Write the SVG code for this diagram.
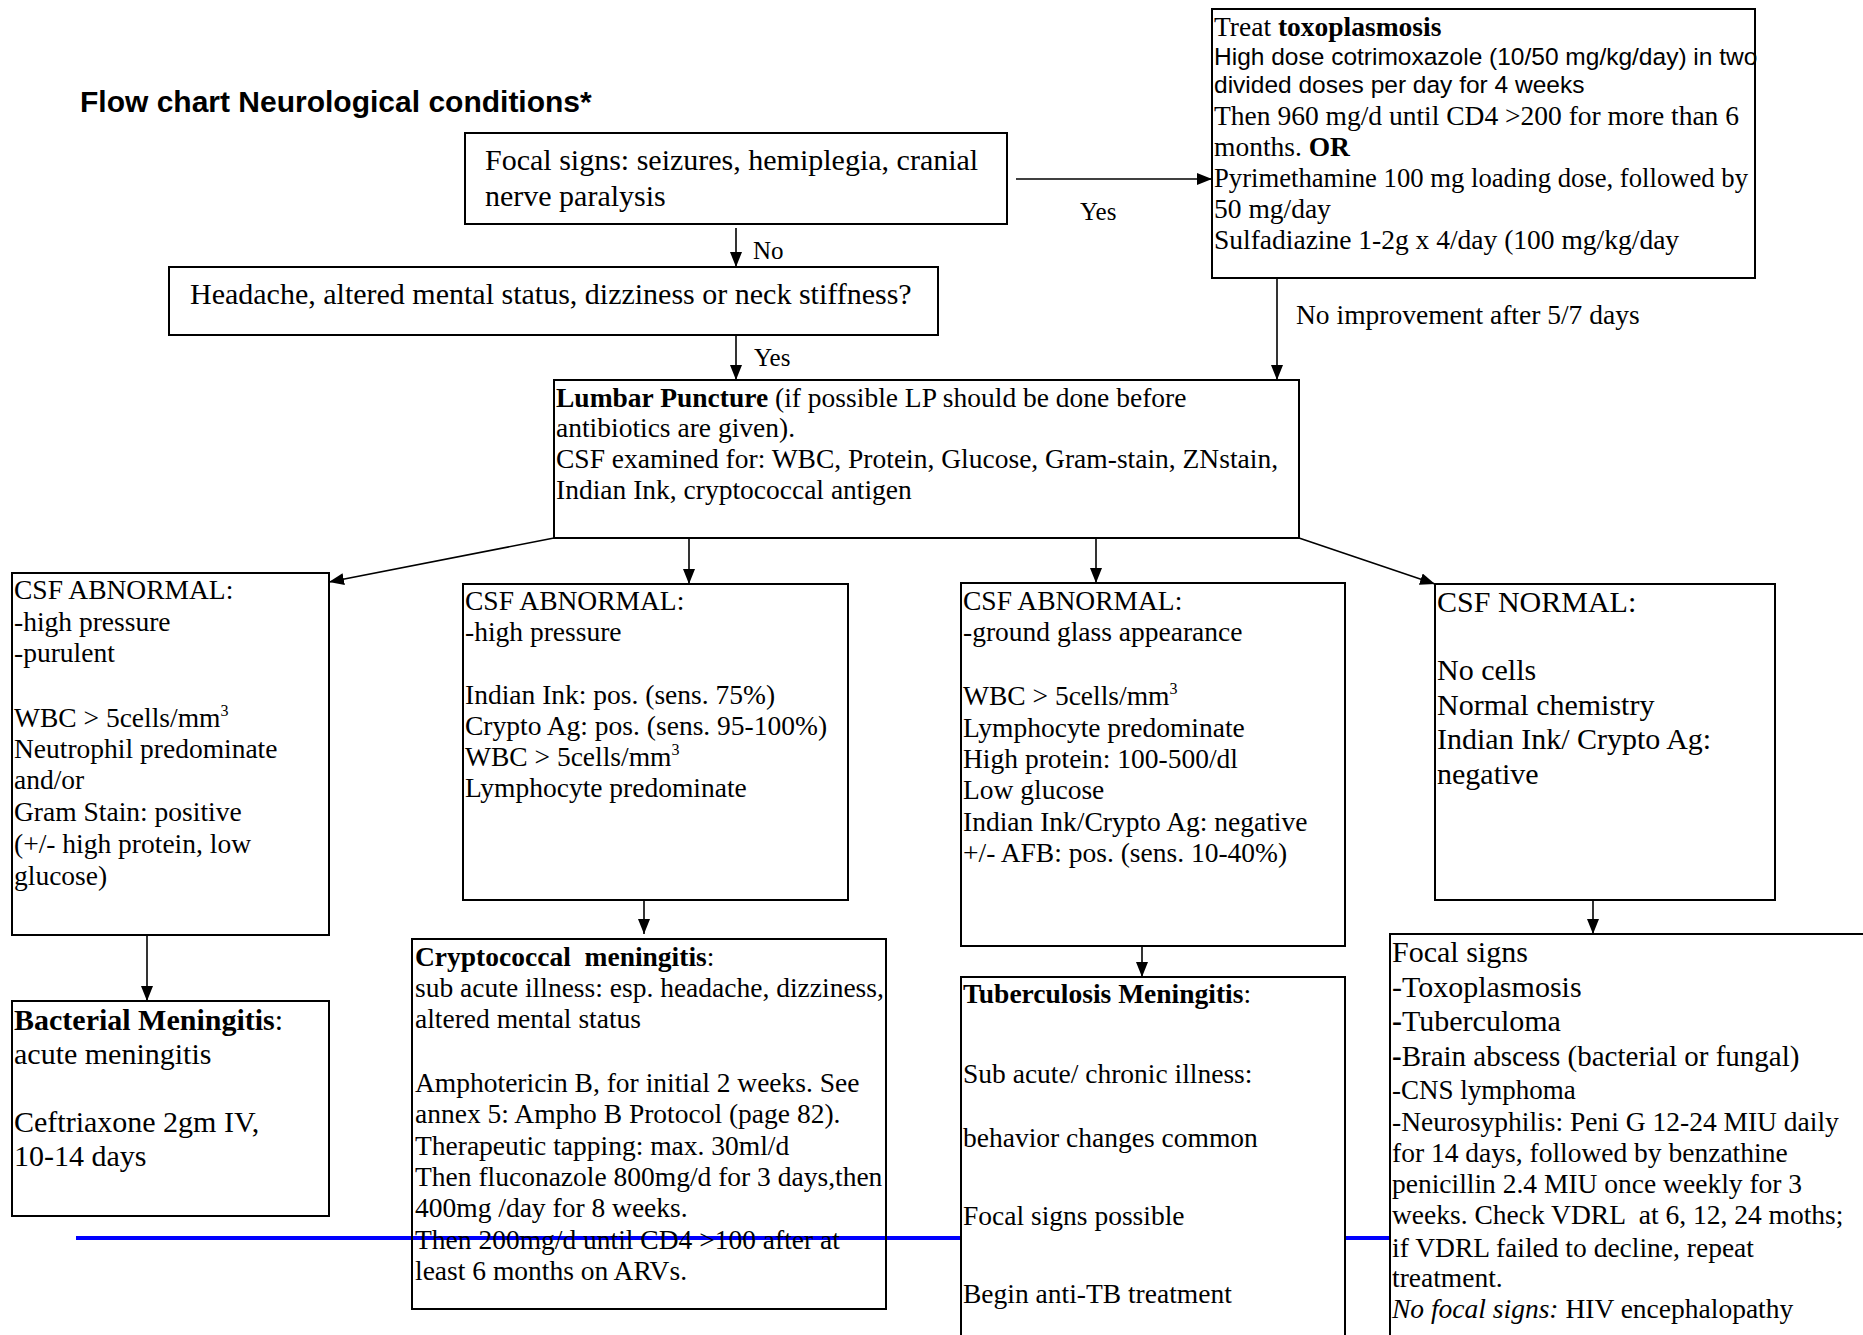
<svg xmlns="http://www.w3.org/2000/svg" width="1863" height="1335" viewBox="0 0 1863 1335">
  <style>
    .box { fill: #fff; stroke: #000; stroke-width: 2; }
    .open { fill: none; stroke: #000; stroke-width: 2; }
    .edge { stroke: #000; stroke-width: 1.6; fill: none; marker-end: url(#arrow); }
    .t { font-family: "Liberation Serif", "Times New Roman", serif; font-size: 27.5px; fill: #000; }
    .tl { font-family: "Liberation Serif", "Times New Roman", serif; font-size: 30px; fill: #000; }
    .lbl { font-family: "Liberation Serif", "Times New Roman", serif; font-size: 25px; fill: #000; }
    .sans { font-family: "Liberation Sans", Arial, sans-serif; font-size: 24.5px; }
    .title { font-family: "Liberation Sans", Arial, sans-serif; font-size: 30px; font-weight: bold; fill: #000; }
    .b { font-weight: bold; }
    .i { font-style: italic; }
    .sup { font-size: 16px; }
    .rule { stroke: #0000ff; stroke-width: 4; }
  </style>
  <defs>
    <marker id="arrow" markerUnits="userSpaceOnUse" markerWidth="16" markerHeight="12" refX="15" refY="6" orient="auto">
      <path d="M0,0 L15,6 L0,12 z" fill="#000"/>
    </marker>
  </defs>

  <rect width="1863" height="1335" fill="#fff"/>

  <!-- horizontal blue rule across the lower part of the page -->
  <line class="rule" x1="76" y1="1238" x2="1863" y2="1238"/>

  <text class="title" x="80" y="112">Flow chart Neurological conditions*</text>

  <!-- connectors -->
  <g id="connectors">
    <line class="edge" x1="1016" y1="179" x2="1212" y2="179"/>
    <line class="edge" x1="736" y1="228" x2="736" y2="267"/>
    <line class="edge" x1="736" y1="335" x2="736" y2="380"/>
    <line class="edge" x1="1277" y1="278" x2="1277" y2="380"/>
    <line class="edge" x1="554" y1="538" x2="329" y2="582"/>
    <line class="edge" x1="689" y1="538" x2="689" y2="584"/>
    <line class="edge" x1="1096" y1="538" x2="1096" y2="583"/>
    <line class="edge" x1="1299" y1="538" x2="1435" y2="584"/>
    <line class="edge" x1="147" y1="935" x2="147" y2="1001"/>
    <line class="edge" x1="644" y1="900" x2="644" y2="934"/>
    <line class="edge" x1="1142" y1="946" x2="1142" y2="977"/>
    <line class="edge" x1="1593" y1="900" x2="1593" y2="934"/>
    <text class="lbl" x="1080" y="220">Yes</text>
    <text class="lbl" x="753" y="259">No</text>
    <text class="lbl" x="754" y="366">Yes</text>
    <text class="t" x="1296" y="324">No improvement after 5/7 days</text>
  </g>

  <g id="focal-signs">
    <rect class="box" x="465" y="133" width="542" height="91"/>
    <text class="tl" x="485" y="170">Focal signs: seizures, hemiplegia, cranial</text>
    <text class="tl" x="485" y="206">nerve paralysis</text>
  </g>

  <g id="toxoplasmosis">
    <rect class="box" x="1212" y="9" width="543" height="269"/>
    <text class="t" x="1214" y="36">Treat <tspan class="b">toxoplasmosis</tspan></text>
    <text class="t sans" x="1214" y="65">High dose cotrimoxazole (10/50 mg/kg/day) in two</text>
    <text class="t sans" x="1214" y="93">divided doses per day for 4 weeks</text>
    <text class="t" x="1214" y="125">Then 960 mg/d until CD4 &gt;200 for more than 6</text>
    <text class="t" x="1214" y="156">months. <tspan class="b">OR</tspan></text>
    <text class="t" x="1214" y="187" textLength="534" lengthAdjust="spacingAndGlyphs">Pyrimethamine 100 mg loading dose, followed by</text>
    <text class="t" x="1214" y="218">50 mg/day</text>
    <text class="t" x="1214" y="249">Sulfadiazine 1-2g x 4/day (100 mg/kg/day</text>
  </g>

  <g id="headache">
    <rect class="box" x="169" y="267" width="769" height="68"/>
    <text class="tl" x="190" y="304">Headache, altered mental status, dizziness or neck stiffness?</text>
  </g>

  <g id="lumbar-puncture">
    <rect class="box" x="554" y="380" width="745" height="158"/>
    <text class="t" x="556" y="407"><tspan class="b">Lumbar Puncture</tspan> (if possible LP should be done before</text>
    <text class="t" x="556" y="437">antibiotics are given).</text>
    <text class="t" x="556" y="468">CSF examined for: WBC, Protein, Glucose, Gram-stain, ZNstain,</text>
    <text class="t" x="556" y="499">Indian Ink, cryptococcal antigen</text>
  </g>

  <g id="csf-bacterial">
    <rect class="box" x="12" y="573" width="317" height="362"/>
    <text class="t" x="14" y="599">CSF ABNORMAL:</text>
    <text class="t" x="14" y="631">-high pressure</text>
    <text class="t" x="14" y="662">-purulent</text>
    <text class="t" x="14" y="727">WBC &gt; 5cells/mm<tspan class="sup" dy="-11">3</tspan></text>
    <text class="t" x="14" y="758">Neutrophil predominate</text>
    <text class="t" x="14" y="789">and/or</text>
    <text class="t" x="14" y="821">Gram Stain: positive</text>
    <text class="t" x="14" y="853">(+/- high protein, low</text>
    <text class="t" x="14" y="885">glucose)</text>
  </g>

  <g id="csf-crypto">
    <rect class="box" x="463" y="584" width="385" height="316"/>
    <text class="t" x="465" y="610">CSF ABNORMAL:</text>
    <text class="t" x="465" y="641">-high pressure</text>
    <text class="t" x="465" y="704">Indian Ink: pos. (sens. 75%)</text>
    <text class="t" x="465" y="735">Crypto Ag: pos. (sens. 95-100%)</text>
    <text class="t" x="465" y="766">WBC &gt; 5cells/mm<tspan class="sup" dy="-11">3</tspan></text>
    <text class="t" x="465" y="797">Lymphocyte predominate</text>
  </g>

  <g id="csf-tb">
    <rect class="box" x="961" y="583" width="384" height="363"/>
    <text class="t" x="963" y="610">CSF ABNORMAL:</text>
    <text class="t" x="963" y="641">-ground glass appearance</text>
    <text class="t" x="963" y="705">WBC &gt; 5cells/mm<tspan class="sup" dy="-11">3</tspan></text>
    <text class="t" x="963" y="737">Lymphocyte predominate</text>
    <text class="t" x="963" y="768">High protein: 100-500/dl</text>
    <text class="t" x="963" y="799">Low glucose</text>
    <text class="t" x="963" y="831">Indian Ink/Crypto Ag: negative</text>
    <text class="t" x="963" y="862">+/- AFB: pos. (sens. 10-40%)</text>
  </g>

  <g id="csf-normal">
    <rect class="box" x="1435" y="584" width="340" height="316"/>
    <text class="tl" x="1437" y="612">CSF NORMAL:</text>
    <text class="tl" x="1437" y="680">No cells</text>
    <text class="tl" x="1437" y="715">Normal chemistry</text>
    <text class="tl" x="1437" y="749">Indian Ink/ Crypto Ag:</text>
    <text class="tl" x="1437" y="784">negative</text>
  </g>

  <g id="bacterial-meningitis">
    <rect class="box" x="12" y="1001" width="317" height="215"/>
    <text class="tl" x="14" y="1030"><tspan class="b">Bacterial Meningitis</tspan>:</text>
    <text class="tl" x="14" y="1064">acute meningitis</text>
    <text class="tl" x="14" y="1132">Ceftriaxone 2gm IV,</text>
    <text class="tl" x="14" y="1166">10-14 days</text>
  </g>

  <g id="cryptococcal-meningitis">
    <rect class="open" x="412" y="939" width="474" height="370"/>
    <text class="t" x="415" y="966" xml:space="preserve"><tspan class="b">Cryptococcal  meningitis</tspan>:</text>
    <text class="t" x="415" y="997">sub acute illness: esp. headache, dizziness,</text>
    <text class="t" x="415" y="1028">altered mental status</text>
    <text class="t" x="415" y="1092">Amphotericin B, for initial 2 weeks. See</text>
    <text class="t" x="415" y="1123">annex 5: Ampho B Protocol (page 82).</text>
    <text class="t" x="415" y="1155">Therapeutic tapping: max. 30ml/d</text>
    <text class="t" x="415" y="1186">Then fluconazole 800mg/d for 3 days,then</text>
    <text class="t" x="415" y="1217">400mg /day for 8 weeks.</text>
    <text class="t" x="415" y="1249">Then 200mg/d until CD4 &gt;100 after at</text>
    <text class="t" x="415" y="1280">least 6 months on ARVs.</text>
  </g>

  <g id="tb-meningitis">
    <rect class="box" x="961" y="977" width="384" height="400"/>
    <text class="t" x="963" y="1003"><tspan class="b">Tuberculosis Meningitis</tspan>:</text>
    <text class="t" x="963" y="1083">Sub acute/ chronic illness:</text>
    <text class="t" x="963" y="1147">behavior changes common</text>
    <text class="t" x="963" y="1225">Focal signs possible</text>
    <text class="t" x="963" y="1303">Begin anti-TB treatment</text>
  </g>

  <g id="normal-csf-causes">
    <rect class="box" x="1390" y="934" width="500" height="450"/>
    <text class="tl" x="1392" y="962">Focal signs</text>
    <text class="tl" x="1392" y="997">-Toxoplasmosis</text>
    <text class="tl" x="1392" y="1031"><tspan class="b">-</tspan>Tuberculoma</text>
    <text class="t" x="1392" y="1066" style="font-size:29px"><tspan class="b">-</tspan>Brain abscess (bacterial or fungal)</text>
    <text class="t" x="1392" y="1099" style="font-size:27px">-CNS lymphoma</text>
    <text class="t" x="1392" y="1131">-Neurosyphilis: Peni G 12-24 MIU daily</text>
    <text class="t" x="1392" y="1162">for 14 days, followed by benzathine</text>
    <text class="t" x="1392" y="1193">penicillin 2.4 MIU once weekly for 3</text>
    <text class="t" x="1392" y="1224" xml:space="preserve">weeks. Check VDRL  at 6, 12, 24 moths;</text>
    <text class="t" x="1392" y="1257">if VDRL failed to decline, repeat</text>
    <text class="t" x="1392" y="1287">treatment.</text>
    <text class="t" x="1392" y="1318"><tspan class="i">No focal signs:</tspan> HIV encephalopathy</text>
  </g>
</svg>
